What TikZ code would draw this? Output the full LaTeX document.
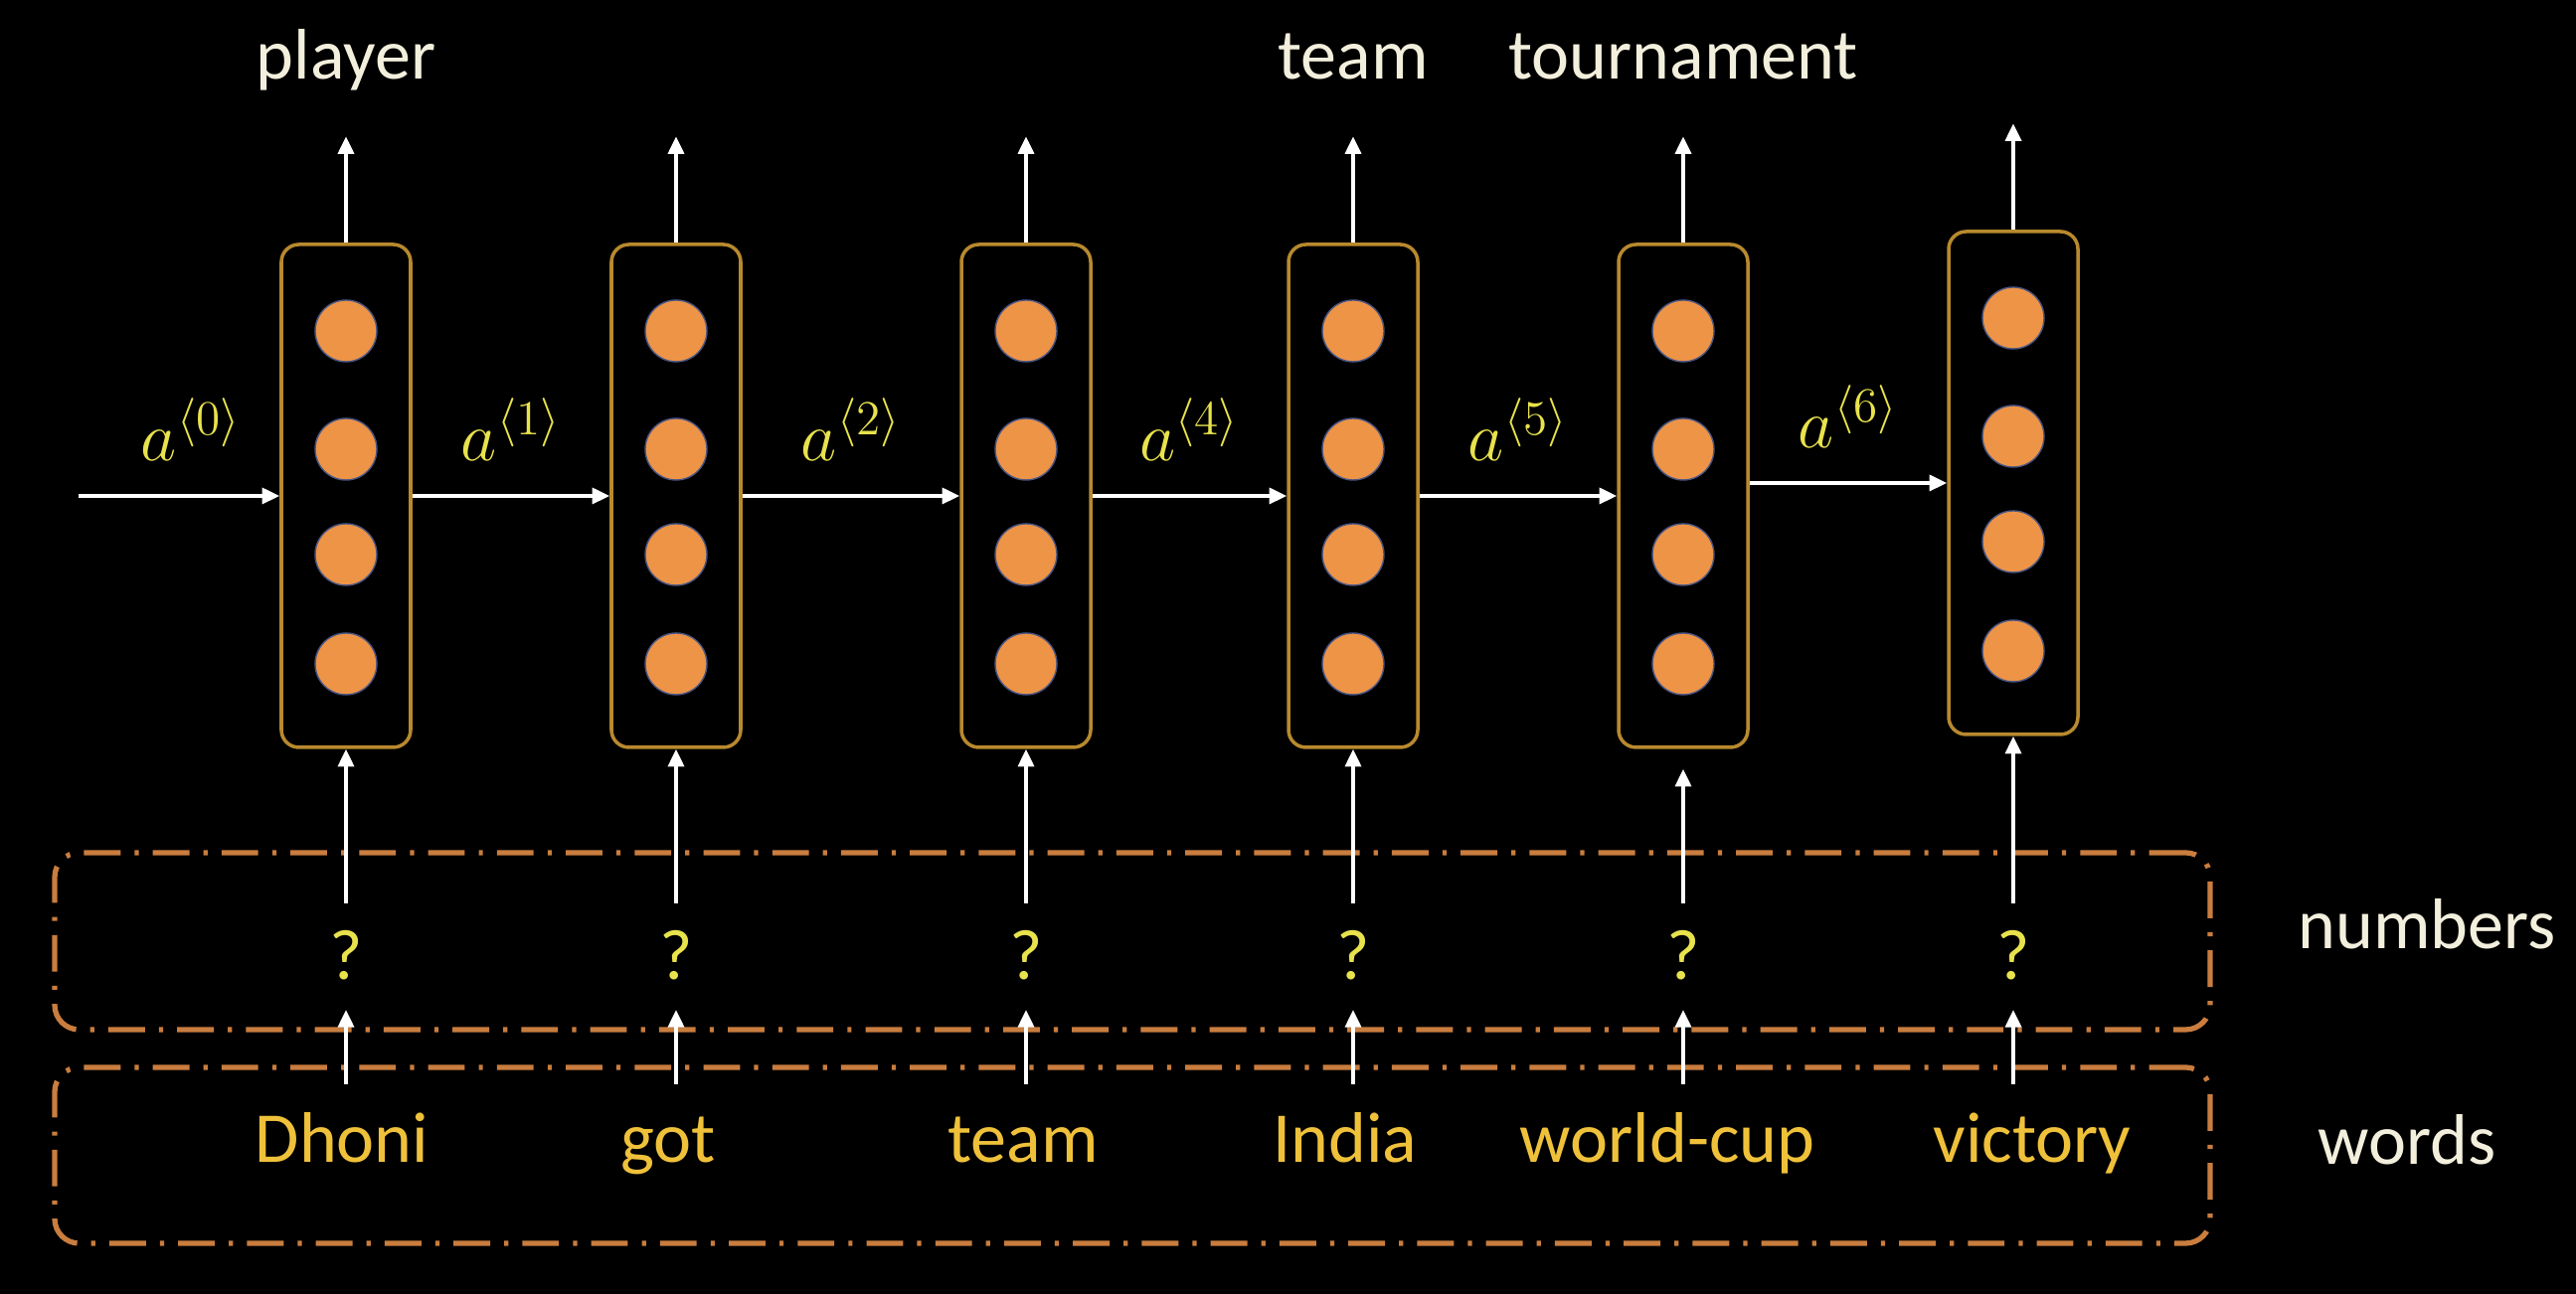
\RequirePackage{fix-cm}
\documentclass[tikz,border=0pt]{standalone}
\usepackage{fontspec}
\setmainfont{Carlito}
\usepackage{tikz}
\usetikzlibrary{arrows.meta,positioning}
\definecolor{cellframe}{HTML}{B8892E}
\definecolor{unitfill}{HTML}{EE9447}
\definecolor{unitedge}{HTML}{4A5683}
\definecolor{wordcol}{HTML}{EFC13A}
\definecolor{qcol}{HTML}{E8E24C}
\definecolor{labcol}{HTML}{F3EFDD}
\definecolor{groupcol}{HTML}{C97D3E}

\begin{document}
\begin{tikzpicture}[
    cell/.style={draw=cellframe, line width=1pt, rounded corners=5pt, minimum width=1.3cm, minimum height=5.06cm, inner sep=0pt},
    unit/.style={circle, fill=unitfill, draw=unitedge, line width=0.4pt, minimum size=0.62cm, inner sep=0pt},
    flow/.style={draw=white, line width=1.1pt, -{Triangle[length=5pt,width=4.5pt]}},
    group/.style={draw=groupcol, line width=1.5pt, rounded corners=7pt, dash pattern=on 10.5pt off 4pt on 1.2pt off 4pt, minimum width=21.68cm, inner sep=0pt},
    outlabel/.style={text=labcol, font=\fontsize{20.5}{24}\selectfont, inner sep=0pt},
    word/.style={text=wordcol, font=\fontsize{20.5}{24}\selectfont, inner sep=0pt},
    qmark/.style={text=qcol, font=\fontsize{20.5}{24}\selectfont, inner sep=0pt},
    state/.style={text=qcol, font=\fontsize{20}{24}\selectfont, inner sep=0pt, above=0.34cm}
  ]
  \fill[black] (0,0) rectangle (25.91,13.02);
  \useasboundingbox (0,0) rectangle (25.91,13.02);

  \node[group, minimum height=1.78cm] (numbox) at (11.39,3.55) {};
  \node[group, minimum height=1.77cm] (wordbox) at (11.39,1.395) {};
  \node[outlabel, anchor=base] (numlab) at (24.41,3.47) {numbers};
  \node[outlabel, anchor=base] (wordlab) at (24.21,1.30) {words};

  \foreach \i/\x/\y/\wx/\w in {1/3.48/8.03/3.44/Dhoni, 2/6.80/8.03/6.72/got, 3/10.32/8.03/10.29/team, 4/13.61/8.03/13.53/India, 5/16.93/8.03/16.77/world-cup, 6/20.25/8.16/20.44/victory} {
    \node[cell] (b\i) at (\x,\y) {};
    \foreach \j/\dy in {1/1.66,2/0.47,3/-0.59,4/-1.69}
      \node[unit] (u\i\j) at ([yshift=\dy cm]b\i.center) {};
    \coordinate (o\i) at ([yshift=1.07cm]b\i.north);
    \draw[flow] (b\i.north) -- (o\i);
    \node[qmark, anchor=base] (q\i) at (\x,3.16) {?};
    \node[word, anchor=base] (w\i) at (\wx,1.32) {\w};
    \coordinate (f\i) at ([yshift=-1.05cm]q\i.base);
    \draw[flow] (f\i) -- ([yshift=-0.30cm]q\i.base);
  }

  \foreach \i in {1,2,3,4,6}
    \draw[flow] ([yshift=0.77cm]q\i.base) -- (b\i.south);
  \draw[flow] ([yshift=0.77cm]q5.base) -- ([yshift=-0.2cm]b5.south);

  \node[outlabel, anchor=base] (t1) at ([yshift=0.58cm]o1) {player};
  \node[outlabel, anchor=base] (t4) at ([yshift=0.58cm]o4) {team};
  \node[outlabel, anchor=base] (t5) at ([yshift=0.58cm]o5) {tournament};

  \coordinate (s0) at (0.79,8.03);
  \draw[flow] (s0) -- (b1.west) node[state, midway, xshift=0.12cm] {$a^{\langle 0\rangle}$};
  \draw[flow] (b1.east) -- (b2.west) node[state, midway] {$a^{\langle 1\rangle}$};
  \draw[flow] (b2.east) -- (b3.west) node[state, midway] {$a^{\langle 2\rangle}$};
  \draw[flow] (b3.east) -- (b4.west) node[state, midway] {$a^{\langle 4\rangle}$};
  \draw[flow] (b4.east) -- (b5.west) node[state, midway] {$a^{\langle 5\rangle}$};
  \draw[flow] (b5.east |- b6.west) -- (b6.west) node[state, midway] {$a^{\langle 6\rangle}$};
\end{tikzpicture}
\end{document}
